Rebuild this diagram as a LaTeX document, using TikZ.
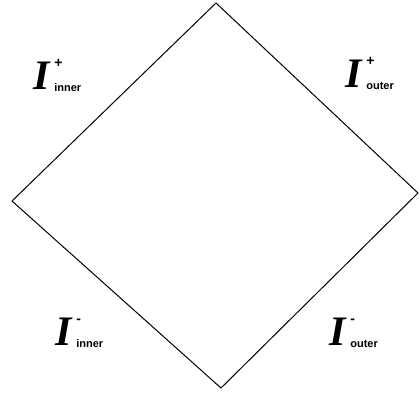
\documentclass[tikz,border=0pt]{standalone}
\usepackage{fontspec}
\setmainfont{Liberation Serif}
\newfontfamily\labsans{Liberation Sans}
\newcommand{\bigIfont}{\fontsize{42}{42}\selectfont\bfseries\itshape}
\newcommand{\supfont}{\labsans\fontsize{14}{14}\selectfont\bfseries}
\newcommand{\subfont}{\labsans\fontsize{11}{11}\selectfont\bfseries}
\newcommand{\penlabel}[2]{{\bigIfont I}\kern5pt\rlap{\raisebox{22pt}{\supfont #1}}\raisebox{-2pt}{\subfont #2}}
\begin{document}
\begin{tikzpicture}[x=1pt,y=-1pt,
  edge/.style={draw=black,line width=1pt,line join=miter},
  lab/.style={anchor=base west,inner sep=0pt,outer sep=0pt}]
\useasboundingbox (0,0) rectangle (420,392);
\coordinate (top) at (216,3);
\coordinate (left) at (12,201);
\coordinate (right) at (418,193);
\coordinate (bottom) at (221,388);
\draw[edge] (top) -- (right) -- (bottom) -- (left) -- cycle;
\node[lab] (inp) at (33,89) {\penlabel{+}{inner}};
\node[lab] (outp) at (345,87) {\penlabel{+}{outer}};
\node[lab] (inm) at (55,345) {\penlabel{-}{inner}};
\node[lab] (outm) at (329,345) {\penlabel{-}{outer}};
\end{tikzpicture}
\end{document}
